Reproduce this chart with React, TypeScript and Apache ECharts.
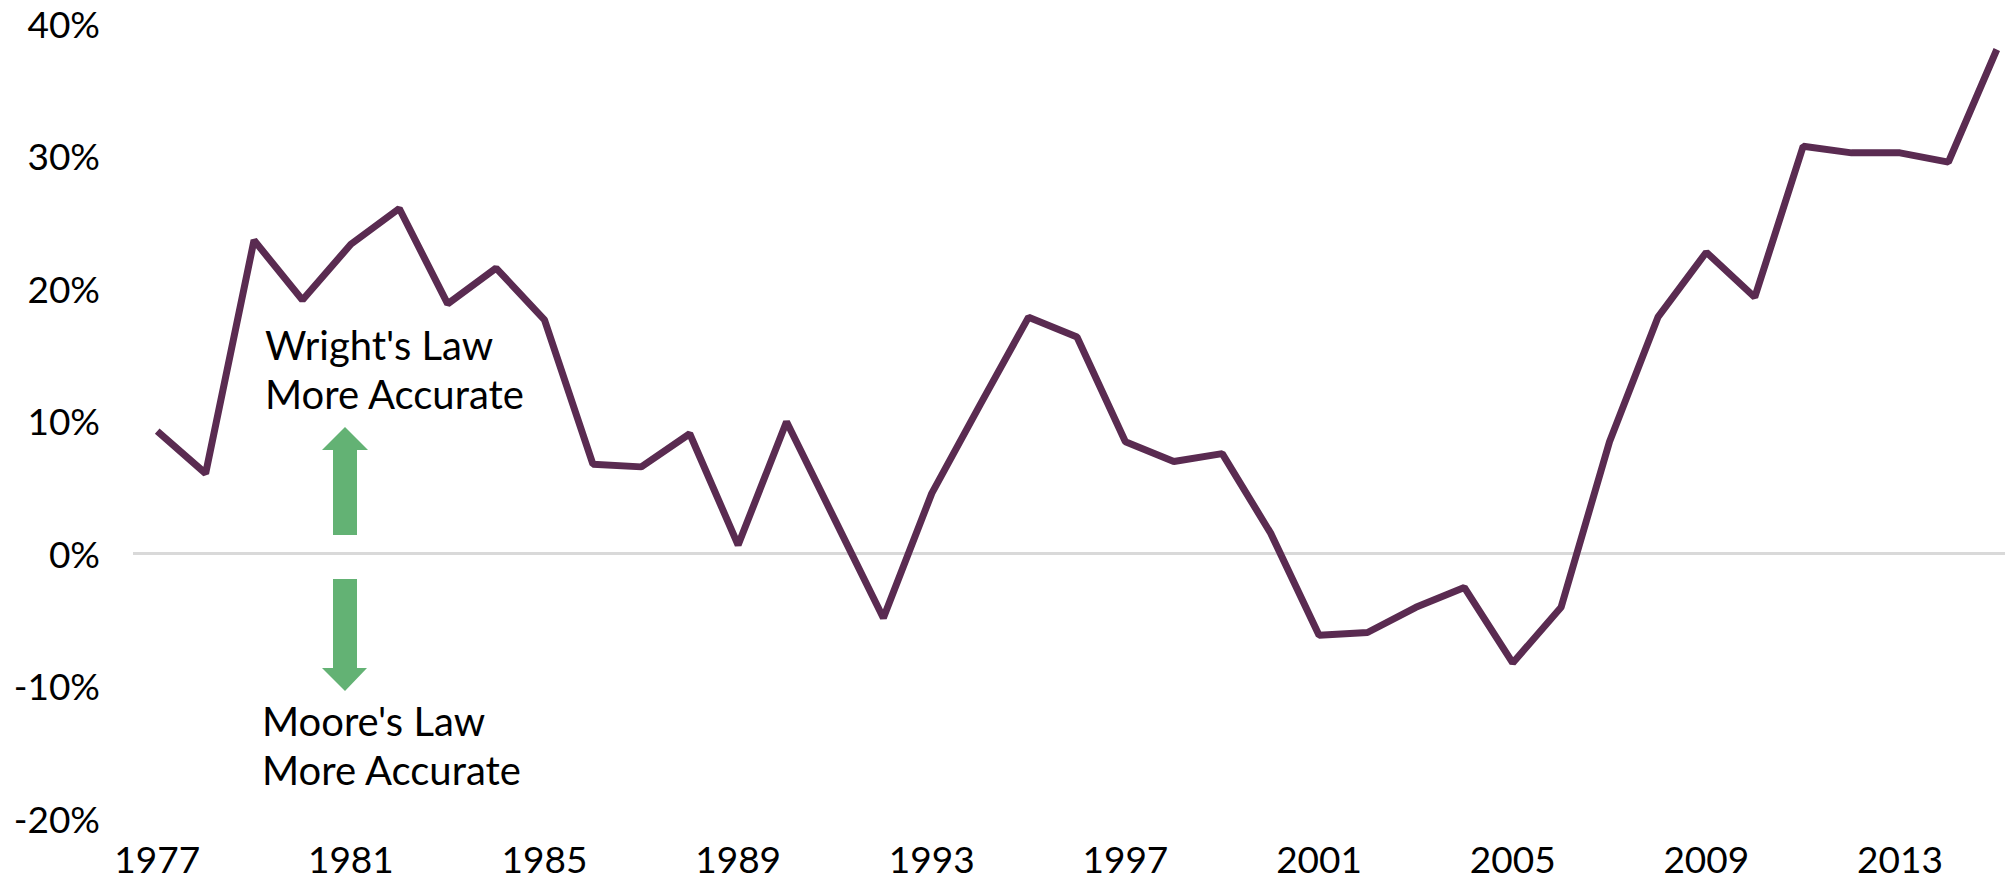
import React, { useEffect, useRef } from "react";
import * as echarts from "echarts";

const years: string[] = [
  "1977", "1978", "1979", "1980", "1981", "1982", "1983", "1984", "1985", "1986",
  "1987", "1988", "1989", "1990", "1991", "1992", "1993", "1994", "1995", "1996",
  "1997", "1998", "1999", "2000", "2001", "2002", "2003", "2004", "2005", "2006",
  "2007", "2008", "2009", "2010", "2011", "2012", "2013", "2014", "2015",
];

const values: number[] = [
  9.2, 6.0, 23.6, 19.1, 23.3, 26.0, 18.8, 21.5, 17.6, 6.7,
  6.5, 9.0, 0.6, 9.9, 2.5, -4.9, 4.5, 11.2, 17.8, 16.3,
  8.4, 6.9, 7.5, 1.5, -6.2, -6.0, -4.1, -2.6, -8.3, -4.1,
  8.4, 17.8, 22.7, 19.3, 30.7, 30.2, 30.2, 29.5, 38.0,
];

const yMin = -20;
const yMax = 40;
const yStep = 10;

const upperNote = ["Wright's Law", "More Accurate"];
const lowerNote = ["Moore's Law", "More Accurate"];

const FONT = "Lato";
const LINE_COLOR = "#5A2B51";
const ARROW_COLOR = "#63B274";

export default function App() {
  const ref = useRef<HTMLDivElement>(null);

  useEffect(() => {
    if (!ref.current) return;
    const chart = echarts.init(ref.current, null, { renderer: "svg" });
    chart.setOption({
      animation: false,
      backgroundColor: "#ffffff",
      grid: { left: 133, right: 0, top: 23, bottom: 64, containLabel: false },
      xAxis: {
        type: "category",
        data: years,
        boundaryGap: true,
        axisLine: { show: false },
        axisTick: { show: false },
        splitLine: { show: false },
        axisLabel: {
          interval: 3,
          margin: 18,
          color: "#000000",
          fontFamily: FONT,
          fontSize: 37,
          lineHeight: 44,
        },
      },
      yAxis: {
        type: "value",
        min: yMin,
        max: yMax,
        interval: yStep,
        axisLine: { show: false },
        axisTick: { show: false },
        splitLine: { show: false },
        axisLabel: {
          formatter: "{value}%",
          margin: 33,
          color: "#000000",
          fontFamily: FONT,
          fontSize: 37,
          lineHeight: 44,
        },
      },
      series: [
        {
          type: "line",
          data: values,
          symbol: "none",
          lineStyle: { color: LINE_COLOR, width: 7 },
          z: 3,
          markLine: {
            silent: true,
            symbol: "none",
            label: { show: false },
            lineStyle: { color: "#D9D9D9", width: 3, type: "solid" },
            data: [{ yAxis: 0 }],
            z: 1,
          },
        },
      ],
      graphic: [
        {
          type: "text",
          left: 265,
          top: 320,
          style: {
            text: upperNote.join("\n"),
            fontFamily: FONT,
            fontSize: 40,
            lineHeight: 49,
            fill: "#000000",
          },
        },
        {
          type: "text",
          left: 262,
          top: 696,
          style: {
            text: lowerNote.join("\n"),
            fontFamily: FONT,
            fontSize: 40,
            lineHeight: 49,
            fill: "#000000",
          },
        },
        {
          type: "polygon",
          shape: {
            points: [
              [345, 427], [368, 450], [357, 450], [357, 535],
              [333, 535], [333, 450], [322, 450],
            ],
          },
          style: { fill: ARROW_COLOR },
        },
        {
          type: "polygon",
          shape: {
            points: [
              [333, 579], [357, 579], [357, 668], [367, 668],
              [345, 691], [322, 668], [333, 668],
            ],
          },
          style: { fill: ARROW_COLOR },
        },
      ],
    });
    return () => chart.dispose();
  }, []);

  return (
    <div
      style={{
        position: "fixed",
        left: 0,
        top: 0,
        width: 2005,
        height: 882,
        overflow: "hidden",
        background: "#ffffff",
      }}
    >
      <div ref={ref} style={{ width: 2021, height: 882 }} />
    </div>
  );
}
